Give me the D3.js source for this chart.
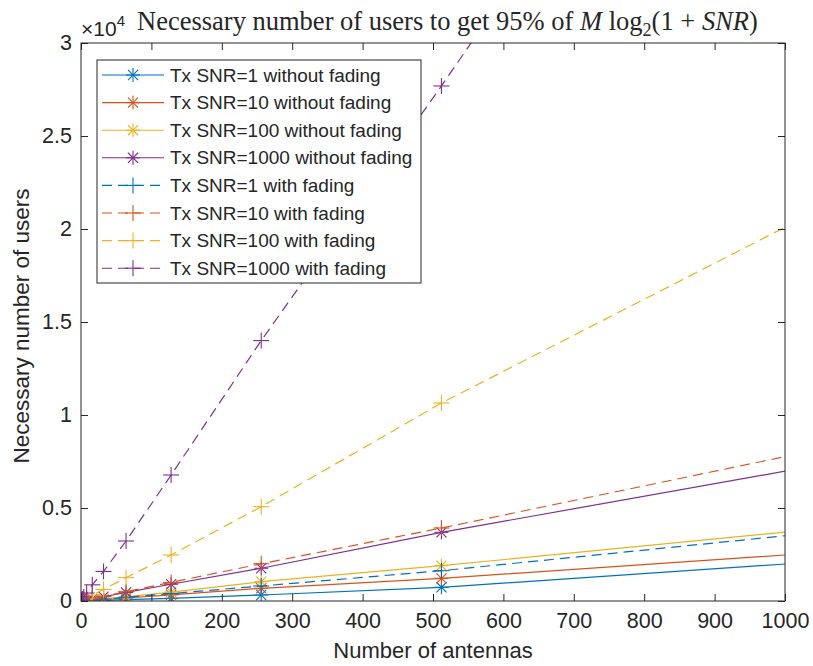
<!DOCTYPE html>
<html>
<head>
<meta charset="utf-8">
<script src="https://cdn.jsdelivr.net/npm/d3@7"></script>
<style>
  body { margin: 0; background: #fff; }
  svg { display: block; }
  text { font-family: "Liberation Sans", Arial, Helvetica, sans-serif; fill: #262626; }
</style>
</head>
<body>
<svg id="chart" width="813" height="666"></svg>
<script>
// Number of antennas M
const antennas = [1, 2, 4, 8, 16, 32, 64, 128, 256, 512, 1024];

// Necessary number of users, one array per transmit SNR
const snr1NoFading    = [1, 2, 4, 8, 16, 33, 70, 140, 323, 737, 2050];
const snr10NoFading   = [2, 4, 8, 16, 35, 75, 160, 330, 683, 1220, 2535];
const snr100NoFading  = [3, 6, 12, 25, 55, 110, 220, 480, 1038, 1898, 3790];
const snr1000NoFading = [4, 8, 16, 35, 110, 230, 460, 900, 1760, 3692, 7140];
const snr1Fading      = [3, 6, 12, 25, 50, 100, 200, 400, 806, 1629, 3600];
const snr10Fading     = [7, 15, 30, 60, 125, 250, 500, 1000, 2000, 3925, 7950];
const snr100Fading    = [20, 40, 80, 160, 320, 620, 1254, 2473, 5070, 10645, 20560];
const snr1000Fading   = [55, 110, 215, 430, 870, 1590, 3226, 6774, 14000, 27690, 55800];

const seriesNames = [
  "Tx SNR=1 without fading", "Tx SNR=10 without fading",
  "Tx SNR=100 without fading", "Tx SNR=1000 without fading",
  "Tx SNR=1 with fading", "Tx SNR=10 with fading",
  "Tx SNR=100 with fading", "Tx SNR=1000 with fading"
];
const seriesValues = [
  snr1NoFading, snr10NoFading, snr100NoFading, snr1000NoFading,
  snr1Fading, snr10Fading, snr100Fading, snr1000Fading
];

const xTicks = [0, 100, 200, 300, 400, 500, 600, 700, 800, 900, 1000];
const yTicks = [0, 5000, 10000, 15000, 20000, 25000, 30000];
const yTickLabels = ["0", "0.5", "1", "1.5", "2", "2.5", "3"];

const palette = ["#0072BD", "#D95319", "#EDB120", "#7E2F8E"];
const axisColor = "#262626";
const dashPattern = "10,6";

const plotLeft = 81, plotTop = 43, plotWidth = 704, plotHeight = 558;

const svg = d3.select("#chart");
const x = d3.scaleLinear().domain([0, 1000]).range([plotLeft, plotLeft + plotWidth]);
const y = d3.scaleLinear().domain([0, 30000]).range([plotTop + plotHeight, plotTop]);

svg.append("defs").append("clipPath").attr("id", "plot-clip")
  .append("rect").attr("x", plotLeft).attr("y", plotTop)
  .attr("width", plotWidth).attr("height", plotHeight);

const series = seriesNames.map((name, i) => ({
  name,
  color: palette[i % 4],
  dashed: i >= 4,
  marker: i >= 4 ? "plus" : "star",
  points: antennas.map((m, j) => ({ m, v: seriesValues[i][j] }))
}));

function drawMarker(g, kind, cx, cy, color) {
  const r = kind === "plus" ? 8 : 7;
  const segs = [[-r, 0, r, 0], [0, -r, 0, r]];
  if (kind === "star") {
    const d = r * 0.72;
    segs.push([-d, -d, d, d], [-d, d, d, -d]);
  }
  segs.forEach(s => g.append("line")
    .attr("x1", cx + s[0]).attr("y1", cy + s[1])
    .attr("x2", cx + s[2]).attr("y2", cy + s[3])
    .attr("stroke", color).attr("stroke-width", 1.1));
}

const plot = svg.append("g").attr("clip-path", "url(#plot-clip)");
const line = d3.line().x(d => x(d.m)).y(d => y(d.v));

series.forEach(s => {
  plot.append("path").datum(s.points)
    .attr("d", line)
    .attr("fill", "none")
    .attr("stroke", s.color)
    .attr("stroke-width", 1.2)
    .attr("stroke-dasharray", s.dashed ? dashPattern : null);
  const mg = plot.append("g");
  s.points.forEach(p => drawMarker(mg, s.marker, x(p.m), y(p.v), s.color));
});

// Axes box with inward ticks on all four sides
const tickLen = 7;
const axes = svg.append("g");
axes.append("rect").attr("x", plotLeft).attr("y", plotTop)
  .attr("width", plotWidth).attr("height", plotHeight)
  .attr("fill", "none").attr("stroke", axisColor).attr("stroke-width", 1);

const gx = axes.append("g").attr("transform", `translate(0,${plotTop + plotHeight})`)
  .call(d3.axisBottom(x).tickValues(xTicks).tickSizeInner(-tickLen).tickSizeOuter(0)
    .tickPadding(12).tickFormat(d3.format("d")));
const gxTop = axes.append("g").attr("transform", `translate(0,${plotTop})`)
  .call(d3.axisTop(x).tickValues(xTicks).tickSizeInner(-tickLen).tickSizeOuter(0).tickFormat(""));
const gy = axes.append("g").attr("transform", `translate(${plotLeft},0)`)
  .call(d3.axisLeft(y).tickValues(yTicks).tickSizeInner(-tickLen).tickSizeOuter(0).tickPadding(9)
    .tickFormat((d, i) => yTickLabels[i]));
const gyRight = axes.append("g").attr("transform", `translate(${plotLeft + plotWidth},0)`)
  .call(d3.axisRight(y).tickValues(yTicks).tickSizeInner(-tickLen).tickSizeOuter(0).tickFormat(""));

[gx, gxTop, gy, gyRight].forEach(g => {
  g.select(".domain").remove();
  g.selectAll(".tick line").attr("stroke", axisColor);
  g.selectAll(".tick text").attr("fill", axisColor)
    .style("font-family", '"Liberation Sans", Arial, sans-serif').style("font-size", "21.5px");
});

// Axis titles
svg.append("text").attr("x", plotLeft + plotWidth / 2).attr("y", 658)
  .attr("text-anchor", "middle").style("font-size", "22px").text("Number of antennas");
svg.append("text")
  .attr("transform", `translate(29,${plotTop + plotHeight / 2 + 4}) rotate(-90)`)
  .attr("text-anchor", "middle").style("font-size", "22.5px").text("Necessary number of users");

// Exponent label
const expo = svg.append("text").attr("x", 81).attr("y", 36).style("font-size", "21px");
expo.append("tspan").text("\u00d710");
expo.append("tspan").attr("dy", -10).style("font-size", "15px").text("4");

// Title with math notation
const title = svg.append("text").attr("x", 137).attr("y", 30)
  .style("font-family", '"Liberation Serif", "Times New Roman", serif').style("font-size", "26.5px")
  .attr("fill", "#000");
title.append("tspan").text("Necessary number of users to get 95% of ");
title.append("tspan").style("font-style", "italic").text("M");
title.append("tspan").text(" log");
title.append("tspan").attr("dy", 6).style("font-size", "18px").text("2");
title.append("tspan").attr("dy", -6).text("(1 + ");
title.append("tspan").style("font-style", "italic").text("SNR");
title.append("tspan").text(")");

// Legend
const lg = svg.append("g");
const lx = 97, ly = 60, lw = 324, lh = 223, rowH = 27.6;
lg.append("rect").attr("x", lx).attr("y", ly).attr("width", lw).attr("height", lh)
  .attr("fill", "#fff").attr("stroke", axisColor).attr("stroke-width", 1);
series.forEach((s, i) => {
  const cy = ly + 15 + i * rowH;
  lg.append("line").attr("x1", lx + 5).attr("x2", lx + 67).attr("y1", cy).attr("y2", cy)
    .attr("stroke", s.color).attr("stroke-width", 1.1)
    .attr("stroke-dasharray", s.dashed ? dashPattern : null);
  drawMarker(lg, s.marker, lx + 36, cy, s.color);
  lg.append("text").attr("x", lx + 73).attr("y", cy).attr("dy", "0.35em")
    .style("font-size", "19px").attr("fill", "#000").text(s.name);
});
</script>
</body>
</html>
